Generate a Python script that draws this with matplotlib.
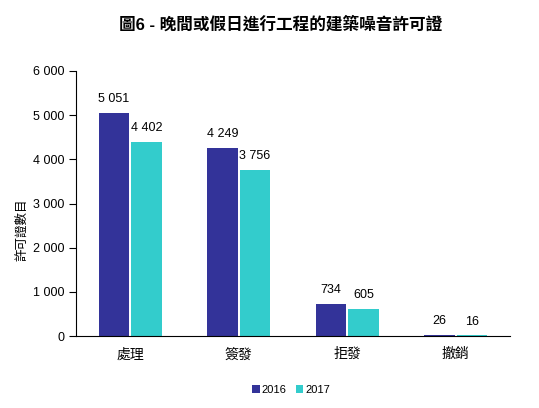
import matplotlib
matplotlib.use("Agg")
import matplotlib.pyplot as plt
import numpy as np

plt.rcParams['font.family'] = ['Liberation Sans', 'Noto Sans CJK TC', 'DejaVu Sans']

categories = ["處理", "簽發", "拒發", "撤銷"]
years = ["2016", "2017"]
values_2016 = [5051, 4249, 734, 26]
values_2017 = [4402, 3756, 605, 16]
yticks = [0, 1000, 2000, 3000, 4000, 5000, 6000]
ytick_labels = ["0", "1 000", "2 000", "3 000", "4 000", "5 000", "6 000"]


def fmt(v):
    return f"{v:,}".replace(",", " ")


fig = plt.figure(figsize=(5.39, 4.08), dpi=100)
ax = fig.add_axes([0.141, 0.176, 0.805, 0.650])

x = np.arange(len(categories))
w = 0.28
b1 = ax.bar(x - w / 2 - 0.01, values_2016, w, color="#333399", label=years[0])
b2 = ax.bar(x + w / 2 + 0.01, values_2017, w, color="#33CCCC", label=years[1])

for bars, vals in ((b1, values_2016), (b2, values_2017)):
    for bar, v in zip(bars, vals):
        ax.text(bar.get_x() + bar.get_width() / 2, v + 180, fmt(v),
                ha="center", va="bottom", fontsize=9)

ax.set_xlim(-0.5, len(categories) - 0.5)
ax.set_ylim(0, 6000)
ax.set_yticks(yticks)
ax.set_yticklabels(ytick_labels, fontsize=9)
ax.set_xticks(x)
ax.set_xticklabels(categories, fontsize=10)
ax.tick_params(axis="x", length=0, pad=8)
ax.tick_params(axis="y", length=5, direction="out")

for s in ("top", "right"):
    ax.spines[s].set_visible(False)

ax.set_ylabel("許可證數目", fontsize=9)
ax.yaxis.set_label_coords(-0.11, 0.40)

fig.text(0.52, 0.94, "圖6 - 晚間或假日進行工程的建築噪音許可證",
         ha="center", va="center", fontsize=12, fontweight="bold")

fig.legend(handles=[b1, b2], loc="center", bbox_to_anchor=(0.54, 0.045),
           ncol=2, frameon=False, fontsize=8, handlelength=0.7,
           handleheight=0.7, handletextpad=0.2, columnspacing=0.8)

fig.savefig("out.png", dpi=100)
